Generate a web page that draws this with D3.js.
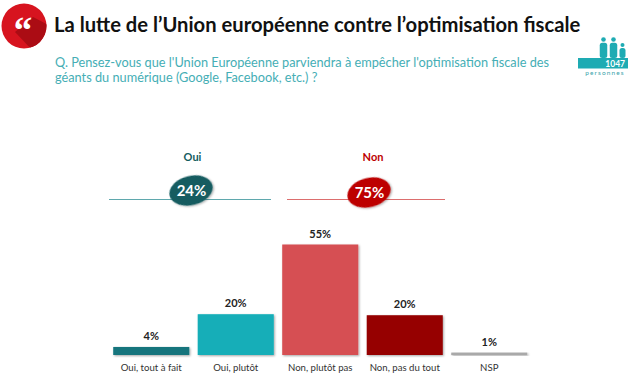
<!DOCTYPE html>
<html>
<head>
<meta charset="utf-8">
<script src="https://cdn.jsdelivr.net/npm/d3@7"></script>
<style>
  html, body { margin: 0; padding: 0; background: #fff; }
  svg { display: block; font-family: Lato, "Open Sans", sans-serif; }
</style>
</head>
<body>
<div id="chart"></div>
<script>
const categories = ['Oui, tout à fait', 'Oui, plutôt', 'Non, plutôt pas', 'Non, pas du tout', 'NSP'];
const values = [4, 20.3, 55, 19.8, 1.2];
const valueLabels = ['4%', '20%', '55%', '20%', '1%'];
const barColors = ['#12757d', '#12aeb8', '#d64f52', '#960000', '#a9a9a9'];

const groups = ['Oui', 'Non'];
const groupValues = ['24%', '75%'];
const groupColors = ['#135c60', '#bd0000'];
const groupLines = ['#5fa8ad', '#dc6e6e'];

const titleText = 'La lutte de l’Union européenne contre l’optimisation fiscale';
const questionLines = [
    "Q. Pensez-vous que l'Union Européenne parviendra à empêcher l'optimisation fiscale des",
    'géants du numérique (Google, Facebook, etc.) ?'
];

const width = 630;
const height = 384;

const svg = d3.select('#chart').append('svg')
    .attr('width', width)
    .attr('height', height);

const defs = svg.append('defs');

// soft shadow for the bars and ovals
const shadow = defs.append('filter').attr('id', 'shadow')
    .attr('x', '-20%').attr('y', '-20%').attr('width', '150%').attr('height', '150%');
shadow.append('feDropShadow')
    .attr('dx', 1).attr('dy', 1).attr('stdDeviation', 1)
    .attr('flood-color', '#000').attr('flood-opacity', 0.35);

// Header badge
const badge = svg.append('g').attr('transform', 'translate(24,26)');
defs.append('clipPath').attr('id', 'badge-clip').append('circle').attr('r', 22.5);
badge.append('circle').attr('r', 22.5).attr('fill', '#d7141f');
badge.append('path')
    .attr('clip-path', 'url(#badge-clip)')
    .attr('d', 'M-9,6 L10,26 L30,26 L30,2 L9,-9 Z')
    .attr('fill', '#ab0c14');
badge.append('text')
    .attr('x', -1).attr('y', 17)
    .attr('text-anchor', 'middle')
    .attr('font-family', '"Liberation Serif", serif')
    .attr('font-weight', 700)
    .attr('font-size', 37)
    .attr('fill', '#fff')
    .text('“');

svg.append('text')
    .attr('x', 54).attr('y', 32)
    .attr('font-size', 20.2)
    .attr('font-weight', 700)
    .attr('fill', '#111')
    .text(titleText);

svg.selectAll('.question')
    .data(questionLines)
    .join('text')
    .attr('class', 'question')
    .attr('x', 55)
    .attr('y', (d, i) => 67 + i * 15)
    .attr('font-size', 12.75)
    .attr('fill', '#45aeb5')
    .text(d => d);

// Sample size pictogram
const people = svg.append('g').attr('fill', '#1eabb3');
[[603.5, 39.5, 2.3, 7.5], [613.5, 39.5, 2.3, 7.5], [622.5, 45, 2, 6]].forEach(([cx, cy, r, w]) => {
    people.append('circle').attr('cx', cx).attr('cy', cy).attr('r', r);
    people.append('rect')
        .attr('x', cx - w / 2).attr('y', cy + r + 1)
        .attr('width', w).attr('height', 58 - (cy + r + 1))
        .attr('rx', 2.5);
});
people.append('rect').attr('x', 578).attr('y', 58).attr('width', 50).attr('height', 10.5);
svg.append('text')
    .attr('x', 625).attr('y', 67)
    .attr('text-anchor', 'end')
    .attr('font-size', 8.5)
    .attr('font-weight', 700)
    .attr('fill', '#fff')
    .text('1047');
svg.append('text')
    .attr('x', 605).attr('y', 75)
    .attr('text-anchor', 'middle')
    .attr('font-size', 6.5)
    .attr('letter-spacing', 1.1)
    .attr('fill', '#3aa3aa')
    .text('personnes');

// Oui / Non summary blocks
const groupSpans = [[109, 271], [287, 445]];
const ovalCenters = [191, 369];
const ovalTops = [190.5, 192.5];
const groupLabelX = [192.5, 373];

groups.forEach((name, i) => {
    const g = svg.append('g');
    g.append('line')
        .attr('x1', groupSpans[i][0]).attr('x2', groupSpans[i][1])
        .attr('y1', 199.5).attr('y2', 199.5)
        .attr('stroke', groupLines[i])
        .attr('stroke-width', 1);
    g.append('text')
        .attr('x', groupLabelX[i]).attr('y', 161)
        .attr('text-anchor', 'middle')
        .attr('font-size', 11)
        .attr('font-weight', 700)
        .attr('fill', groupColors[i])
        .text(name);
    const cy = ovalTops[i];
    g.append('ellipse')
        .attr('rx', 22).attr('ry', 14.5)
        .attr('transform', `translate(${ovalCenters[i]},${cy}) rotate(-14)`)
        .attr('fill', groupColors[i])
        .attr('filter', 'url(#shadow)');
    g.append('text')
        .attr('x', ovalCenters[i] + 0.5).attr('y', cy + 5.5)
        .attr('text-anchor', 'middle')
        .attr('font-size', 15)
        .attr('font-weight', 700)
        .attr('fill', '#fff')
        .text(groupValues[i]);
});

// Bars
const x = d3.scaleBand()
    .domain(categories)
    .range([109, 531.5])
    .paddingInner(0.1)
    .paddingOuter(0.05);

const y = d3.scaleLinear()
    .domain([0, 55])
    .range([355, 244.5]);

svg.selectAll('.bar')
    .data(categories)
    .join('rect')
    .attr('class', 'bar')
    .attr('x', d => x(d))
    .attr('y', (d, i) => y(values[i]))
    .attr('width', x.bandwidth())
    .attr('height', (d, i) => y(0) - y(values[i]))
    .attr('fill', (d, i) => barColors[i])
    .attr('filter', 'url(#shadow)');

svg.selectAll('.value')
    .data(categories)
    .join('text')
    .attr('class', 'value')
    .attr('x', d => x(d) + x.bandwidth() / 2)
    .attr('y', (d, i) => y(values[i]) - 7)
    .attr('text-anchor', 'middle')
    .attr('font-size', 11)
    .attr('font-weight', 700)
    .attr('fill', '#222')
    .text((d, i) => valueLabels[i]);

// Category labels, axis line hidden
const axis = svg.append('g')
    .attr('transform', 'translate(0,355)')
    .call(d3.axisBottom(x).tickSize(0).tickPadding(9));
axis.select('.domain').remove();
axis.selectAll('text')
    .attr('font-family', 'Lato, "Open Sans", sans-serif')
    .attr('font-size', 9.6)
    .attr('fill', '#333');
</script>
</body>
</html>
